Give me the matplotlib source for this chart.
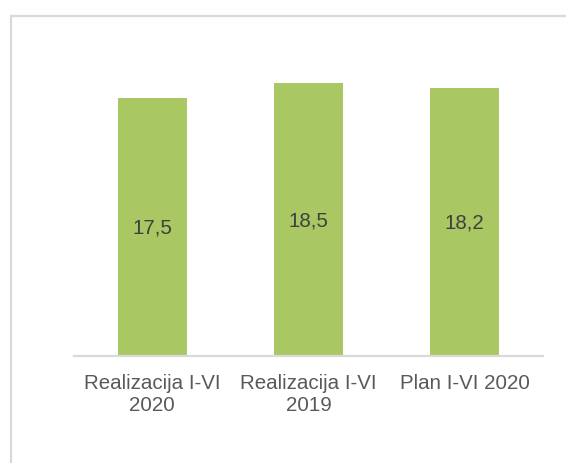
import matplotlib
matplotlib.use("Agg")
import matplotlib.pyplot as plt
from matplotlib.patches import Rectangle

categories = ["Realizacija I-VI\n2020", "Realizacija I-VI\n2019", "Plan I-VI 2020"]
values = [17.5, 18.5, 18.2]
value_labels = ["17,5", "18,5", "18,2"]

plt.rcParams['font.family'] = ['Liberation Sans', 'DejaVu Sans']

W, H = 566, 464
fig = plt.figure(figsize=(W / 100, H / 100), dpi=100)
fig.patch.set_facecolor('white')

# outer chart border (cropped at right/bottom)
fig.patches.append(Rectangle((10.5 / W, -0.05), 1.2, 1 - 17 / H + 0.05,
                             transform=fig.transFigure, fill=False,
                             edgecolor='#D9D9D9', linewidth=1.6, zorder=0))

ax = fig.add_axes([74 / W, 1 - 357 / H, (543 - 74) / W, 294.8 / H])
x = range(len(categories))
bars = ax.bar(x, values, width=0.44, color='#A9C864', zorder=2)
for b, lab in zip(bars, value_labels):
    ax.text(b.get_x() + b.get_width() / 2, b.get_height() / 2, lab,
            ha='center', va='center', fontsize=14.8, color='#404040', zorder=3)

ax.set_xlim(-0.5, 2.5)
ax.set_ylim(0, 20)
ax.set_xticks(list(x))
ax.set_xticklabels(categories, fontsize=14.8, color='#595959', linespacing=1.2)
ax.tick_params(axis='x', length=0, pad=12)
ax.set_yticks([])
for s in ['top', 'right', 'left']:
    ax.spines[s].set_visible(False)
ax.spines['bottom'].set_color('#D9D9D9')
ax.spines['bottom'].set_linewidth(1.6)
ax.patch.set_alpha(0)

fig.savefig("out.png", dpi=100)
